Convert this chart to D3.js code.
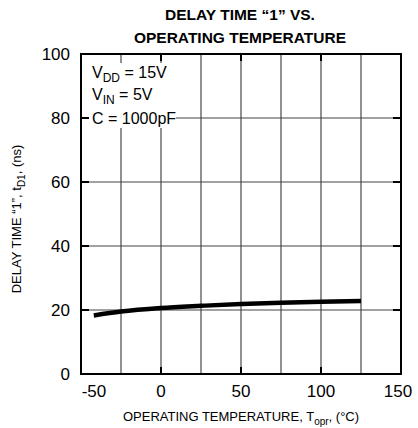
<!DOCTYPE html>
<html>
<head>
<meta charset="utf-8">
<script src="https://cdn.jsdelivr.net/npm/d3@7"></script>
<style>
  body { margin: 0; background: #fff; }
  text { font-family: "Liberation Sans", Arial, Helvetica, sans-serif; fill: #000; }
</style>
</head>
<body>
<script>
// curve
const temps = [-42, -25, 0, 25, 50, 75, 100, 125]
const delays = [18.3, 19.5, 20.6, 21.3, 21.9, 22.3, 22.6, 22.8]

const xTicks = [-50, 0, 50, 100, 150]
const xGrid = [-25, 0, 25, 50, 75, 100, 125]
const yTicks = [0, 20, 40, 60, 80, 100]
const yGrid = [20, 40, 60, 80]

const W = 418, H = 428
const LEFT = 81, RIGHT = 401, TOP = 54, BOTTOM = 374

const svg = d3.select("body").append("svg")
  .attr("width", W)
  .attr("height", H)

const x = d3.scaleLinear().domain([-50, 150]).range([LEFT, RIGHT])
const y = d3.scaleLinear().domain([0, 100]).range([BOTTOM, TOP])

// title
svg.append("text")
  .attr("x", 240).attr("y", 20)
  .attr("text-anchor", "middle")
  .style("font-size", "15.5px").style("font-weight", "bold")
  .text("DELAY TIME “1” VS.")
svg.append("text")
  .attr("x", 240).attr("y", 43)
  .attr("text-anchor", "middle")
  .style("font-size", "15.5px").style("font-weight", "bold")
  .text("OPERATING TEMPERATURE")

// grid
const grid = svg.append("g")
grid.selectAll("line.vx").data(xGrid).join("line")
  .attr("x1", d => x(d)).attr("x2", d => x(d))
  .attr("y1", TOP).attr("y2", BOTTOM)
  .attr("stroke", "#222").attr("stroke-width", 1)
grid.selectAll("line.hy").data(yGrid).join("line")
  .attr("x1", LEFT).attr("x2", RIGHT)
  .attr("y1", d => y(d)).attr("y2", d => y(d))
  .attr("stroke", "#444").attr("stroke-width", 1)

// conditions box (white behind text)
svg.append("rect")
  .attr("x", 87).attr("y", 63)
  .attr("width", 89).attr("height", 65)
  .attr("fill", "#fff")

const cond = svg.append("g").style("font-size", "16px")
let t = cond.append("text").attr("x", 92).attr("y", 78)
t.append("tspan").text("V")
t.append("tspan").attr("dy", 4).style("font-size", "12px").text("DD")
t.append("tspan").attr("dy", -4).text(" = 15V")
t = cond.append("text").attr("x", 92).attr("y", 100)
t.append("tspan").text("V")
t.append("tspan").attr("dy", 4).style("font-size", "12px").text("IN")
t.append("tspan").attr("dy", -4).text(" = 5V")
cond.append("text").attr("x", 92).attr("y", 124).text("C = 1000pF")

// major ticks
const ticks = svg.append("g").attr("stroke", "#000").attr("stroke-width", 2)
ticks.selectAll("line.bt").data(xTicks).join("line")
  .attr("x1", d => x(d)).attr("x2", d => x(d))
  .attr("y1", BOTTOM).attr("y2", BOTTOM - 7)
ticks.selectAll("line.tt").data(xTicks).join("line")
  .attr("x1", d => x(d)).attr("x2", d => x(d))
  .attr("y1", TOP).attr("y2", TOP + 7)
ticks.selectAll("line.lt").data(yGrid).join("line")
  .attr("x1", LEFT).attr("x2", LEFT + 8)
  .attr("y1", d => y(d)).attr("y2", d => y(d))
ticks.selectAll("line.rt").data(yGrid).join("line")
  .attr("x1", RIGHT).attr("x2", RIGHT - 8)
  .attr("y1", d => y(d)).attr("y2", d => y(d))

// frame
svg.append("rect")
  .attr("x", LEFT).attr("y", TOP)
  .attr("width", RIGHT - LEFT).attr("height", BOTTOM - TOP)
  .attr("fill", "none").attr("stroke", "#000").attr("stroke-width", 2)

// curve
const line = d3.line()
  .x((d, i) => x(temps[i]))
  .y(d => y(d))
  .curve(d3.curveMonotoneX)
svg.append("path")
  .attr("d", line(delays))
  .attr("fill", "none")
  .attr("stroke", "#000")
  .attr("stroke-width", 4.5)

// tick labels
svg.append("g").selectAll("text").data(xTicks).join("text")
  .attr("x", d => x(d) + (d === -50 ? 13 : d === 150 ? -3 : 0))
  .attr("y", 397)
  .attr("text-anchor", "middle")
  .style("font-size", "17px")
  .text(d => d)
svg.append("g").selectAll("text").data(yTicks).join("text")
  .attr("x", 70)
  .attr("y", d => y(d) + 6)
  .attr("text-anchor", "end")
  .style("font-size", "17px")
  .text(d => d)

// axis titles
t = svg.append("text")
  .attr("x", 241).attr("y", 421)
  .attr("text-anchor", "middle")
  .style("font-size", "13px")
t.append("tspan").text("OPERATING TEMPERATURE, T")
t.append("tspan").attr("dy", 4).style("font-size", "10px").text("opr")
t.append("tspan").attr("dy", -4).text(", (°C)")

t = svg.append("text")
  .attr("transform", "translate(21,219) rotate(-90)")
  .attr("text-anchor", "middle")
  .style("font-size", "13px")
t.append("tspan").text("DELAY TIME “1”, t")
t.append("tspan").attr("dy", 4).style("font-size", "10px").text("D1")
t.append("tspan").attr("dy", -4).text(", (ns)")
</script>
</body>
</html>
